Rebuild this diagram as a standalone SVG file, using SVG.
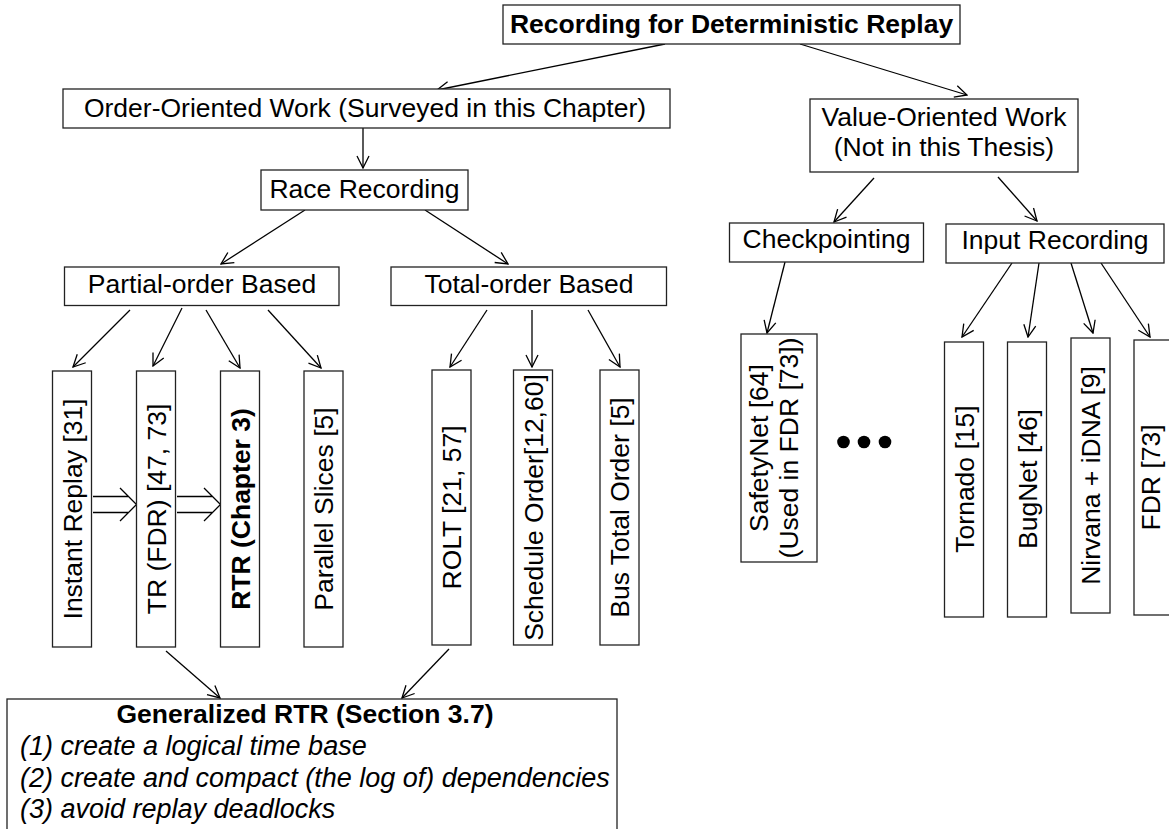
<svg xmlns="http://www.w3.org/2000/svg" width="1169" height="829" viewBox="0 0 1169 829">
  <style>
    .box { fill: #fff; stroke: #222; stroke-width: 1.3; }
    .t { font-family: "Liberation Sans", Arial, sans-serif; font-size: 26.5px; fill: #000; }
    .c { text-anchor: middle; }
    .b { font-weight: bold; }
    .i { font-style: italic; font-size: 27px; }
    .edge { fill: none; stroke: #000; stroke-width: 1.3; marker-end: url(#arr); }
    .dbl { fill: none; stroke: #000; stroke-width: 1.3; }
  </style>
  <defs>
    <marker id="arr" viewBox="0 0 14 14" refX="13" refY="7" markerWidth="14" markerHeight="14" markerUnits="userSpaceOnUse" orient="auto">
      <path d="M1,1 L13,7 L1,13" fill="none" stroke="#000" stroke-width="1.3"/>
    </marker>
  </defs>
  <rect width="1169" height="829" fill="#fff"/>

  <!-- connectors -->
  <g id="connectors">
    <path class="edge" d="M665,44 L437,90"/>
    <path class="edge" d="M800,44 L967,95"/>
    <path class="edge" d="M363,128 L363,168"/>
    <path class="edge" d="M305,210 L221,264"/>
    <path class="edge" d="M425,210 L508,264"/>
    <path class="edge" d="M130,310 L73,367"/>
    <path class="edge" d="M182,308 L153,366"/>
    <path class="edge" d="M206,310 L240,368"/>
    <path class="edge" d="M268,310 L321,368"/>
    <path class="edge" d="M487,310 L450,367"/>
    <path class="edge" d="M532,310 L532,367"/>
    <path class="edge" d="M588,310 L620,367"/>
    <path class="edge" d="M874,178 L834,222"/>
    <path class="edge" d="M998,177 L1037,221"/>
    <path class="edge" d="M785,262 L767,333"/>
    <path class="edge" d="M1012,263 L962,337"/>
    <path class="edge" d="M1039,263 L1028,337"/>
    <path class="edge" d="M1071,263 L1093,333"/>
    <path class="edge" d="M1101,263 L1150,337"/>
    <path class="edge" d="M166,651 L220,698"/>
    <path class="edge" d="M449,649 L402,698"/>
    <!-- double arrows between the partial-order boxes -->
    <path class="dbl" d="M93,496.5 H128 M93,512.5 H128 M120,488 L136.5,504.5 L120,521"/>
    <path class="dbl" d="M177,496.5 H212 M177,512.5 H212 M204,488 L220.5,504.5 L204,521"/>
  </g>

  <g id="root">
    <rect class="box" x="503" y="5" width="457" height="39"/>
    <text class="t c b" x="731.5" y="32.5">Recording for Deterministic Replay</text>
  </g>

  <g id="order-oriented">
    <rect class="box" x="63" y="89" width="607" height="39"/>
    <text class="t c" x="365" y="116.5">Order-Oriented Work (Surveyed in this Chapter)</text>
  </g>

  <g id="race-recording">
    <rect class="box" x="261" y="170" width="207" height="40"/>
    <text class="t c" x="364.5" y="197.5">Race Recording</text>
  </g>

  <g id="partial-order">
    <rect class="box" x="64.5" y="267" width="274.5" height="38.5"/>
    <text class="t c" x="202" y="292.5">Partial-order Based</text>
  </g>

  <g id="total-order">
    <rect class="box" x="391" y="267" width="275.5" height="38.5"/>
    <text class="t c" x="529" y="292.5">Total-order Based</text>
  </g>

  <g id="value-oriented">
    <rect class="box" x="810" y="99" width="268" height="73"/>
    <text class="t c" x="944" y="126">Value-Oriented Work</text>
    <text class="t c" x="944" y="156">(Not in this Thesis)</text>
  </g>

  <g id="checkpointing">
    <rect class="box" x="729.5" y="223" width="194" height="39"/>
    <text class="t c" x="826.5" y="248">Checkpointing</text>
  </g>

  <g id="input-recording">
    <rect class="box" x="946" y="224" width="218" height="39"/>
    <text class="t c" x="1055" y="249">Input Recording</text>
  </g>

  <g id="instant-replay">
    <rect class="box" x="52.5" y="371" width="39" height="276"/>
    <text class="t c" transform="translate(72,509) rotate(-90)" y="9.5">Instant Replay [31]</text>
  </g>

  <g id="tr-fdr">
    <rect class="box" x="136.5" y="371" width="39" height="276"/>
    <text class="t c" transform="translate(156,509) rotate(-90)" y="9.5">TR (FDR) [47, 73]</text>
  </g>

  <g id="rtr">
    <rect class="box" x="220.5" y="371" width="39" height="276"/>
    <text class="t c b" transform="translate(240,509) rotate(-90)" y="9.5">RTR (Chapter 3)</text>
  </g>

  <g id="parallel-slices">
    <rect class="box" x="304" y="371" width="39" height="276"/>
    <text class="t c" transform="translate(323.5,509) rotate(-90)" y="9.5">Parallel Slices [5]</text>
  </g>

  <g id="rolt">
    <rect class="box" x="432" y="370" width="39" height="275"/>
    <text class="t c" transform="translate(451.5,507.5) rotate(-90)" y="9.5">ROLT [21, 57]</text>
  </g>

  <g id="schedule-order">
    <rect class="box" x="513.5" y="370" width="39" height="275"/>
    <text class="t c" transform="translate(533,507.5) rotate(-90)" y="9.5">Schedule Order[12,60]</text>
  </g>

  <g id="bus-total-order">
    <rect class="box" x="600" y="370" width="39" height="275"/>
    <text class="t c" transform="translate(619.5,507.5) rotate(-90)" y="9.5">Bus Total Order [5]</text>
  </g>

  <g id="safetynet">
    <rect class="box" x="741" y="334" width="76" height="228"/>
    <text class="t c" transform="translate(779,448) rotate(-90)" y="-11">SafetyNet [64]</text>
    <text class="t c" transform="translate(779,448) rotate(-90)" y="19">(Used in FDR [73])</text>
  </g>

  <g id="ellipsis">
    <circle cx="843.5" cy="442" r="6.3"/>
    <circle cx="864" cy="442" r="6.3"/>
    <circle cx="885" cy="442" r="6.3"/>
  </g>

  <g id="tornado">
    <rect class="box" x="944.5" y="342" width="39" height="275"/>
    <text class="t c" transform="translate(964,479) rotate(-90)" y="9.5">Tornado [15]</text>
  </g>

  <g id="bugnet">
    <rect class="box" x="1007.5" y="342" width="39" height="275"/>
    <text class="t c" transform="translate(1027,479) rotate(-90)" y="9.5">BugNet [46]</text>
  </g>

  <g id="nirvana-idna">
    <rect class="box" x="1071" y="338" width="39" height="275"/>
    <text class="t c" transform="translate(1090.5,475.5) rotate(-90)" y="9.5">Nirvana + iDNA [9]</text>
  </g>

  <g id="fdr">
    <rect class="box" x="1134" y="340" width="45" height="275"/>
    <text class="t c" transform="translate(1150.5,477.5) rotate(-90)" y="9.5">FDR [73]</text>
  </g>

  <g id="generalized-rtr">
    <rect class="box" x="7" y="699" width="610" height="160"/>
    <text class="t c b" x="305" y="723">Generalized RTR (Section 3.7)</text>
    <text class="t i" x="20" y="755">(1) create a logical time base</text>
    <text class="t i" x="20" y="786.5">(2) create and compact (the log of) dependencies</text>
    <text class="t i" x="20" y="818">(3) avoid replay deadlocks</text>
  </g>
</svg>
